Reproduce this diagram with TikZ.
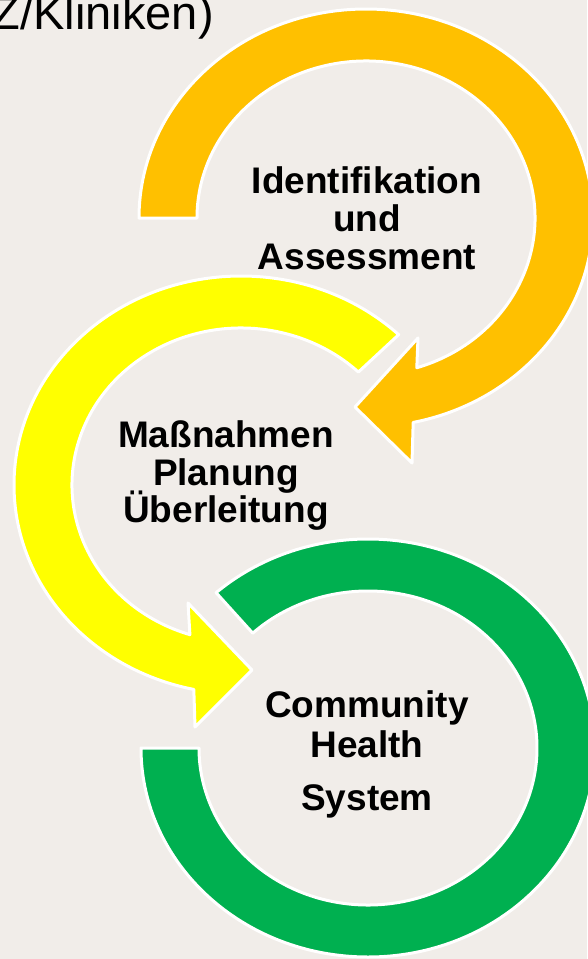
\documentclass[tikz,border=0pt]{standalone}
\usepackage{fontspec}
\setmainfont{Liberation Sans}
\usetikzlibrary{calc}
\definecolor{bg}{RGB}{241,237,233}
\definecolor{orangeArc}{RGB}{255,192,0}
\definecolor{yellowArc}{RGB}{255,255,0}
\definecolor{greenArc}{RGB}{0,176,80}
\begin{document}
\begin{tikzpicture}[x=1pt,y=1pt,
  band/.style={draw=white, line width=3pt, line join=round},
  lbl/.style={font=\bfseries\fontsize{37}{40}\selectfont, anchor=base, inner sep=0pt, text=black},
  toptext/.style={font=\fontsize{47}{50}\selectfont, anchor=base east, inner sep=0pt, text=black}]
\fill[bg] (0,0) rectangle (587,-959);
\useasboundingbox (0,0) rectangle (587,-959);

\coordinate (O1) at (366,-218);
\coordinate (O2) at (241,-485);
\coordinate (O3) at (368,-748);

% orange circular arrow
\filldraw[band, fill=orangeArc]
  ($(O1)+(180:227pt and 209pt)$)
  arc[start angle=180, end angle=-78, x radius=227pt, y radius=209pt]
  -- (412,-463) -- (355,-407) -- (418,-338)
  -- ($(O1)+(-72.5:169pt and 157pt)$)
  arc[start angle=-72.5, end angle=180, x radius=169pt, y radius=157pt]
  -- cycle;

% yellow circular arrow
\filldraw[band, fill=yellowArc]
  ($(O2)+(46:227pt and 209pt)$)
  arc[start angle=46, end angle=258, x radius=227pt, y radius=209pt]
  -- (195,-727) -- (252,-670) -- (188,-603)
  -- ($(O2)+(252.4:169pt and 157pt)$)
  arc[start angle=252.4, end angle=46, x radius=169pt, y radius=157pt]
  -- cycle;

% green circular band
\filldraw[band, fill=greenArc]
  ($(O3)+(180:227pt and 209pt)$)
  arc[start angle=180, end angle=492, x radius=227pt, y radius=209pt]
  -- ($(O3)+(493:169pt and 157pt)$)
  arc[start angle=493, end angle=180, x radius=169pt, y radius=157pt]
  -- cycle;

% texts
\node[toptext] (top) at (214,-29) {Z/Kliniken)};

\node[lbl] (ia) at (367,-193) {Identifikation};
\node[lbl] (ib) at (367,-231) {und};
\node[lbl] (ic) at (367,-269) {Assessment};

\node[lbl] (ma) at (226,-447) {Maßnahmen};
\node[lbl] (mb) at (226,-485) {Planung};
\node[lbl] (mc) at (226,-522) {Überleitung};

\node[lbl] (ca) at (367,-717) {Community};
\node[lbl] (cb) at (367,-757) {Health};
\node[lbl] (cc) at (367,-810) {System};
\end{tikzpicture}
\end{document}
